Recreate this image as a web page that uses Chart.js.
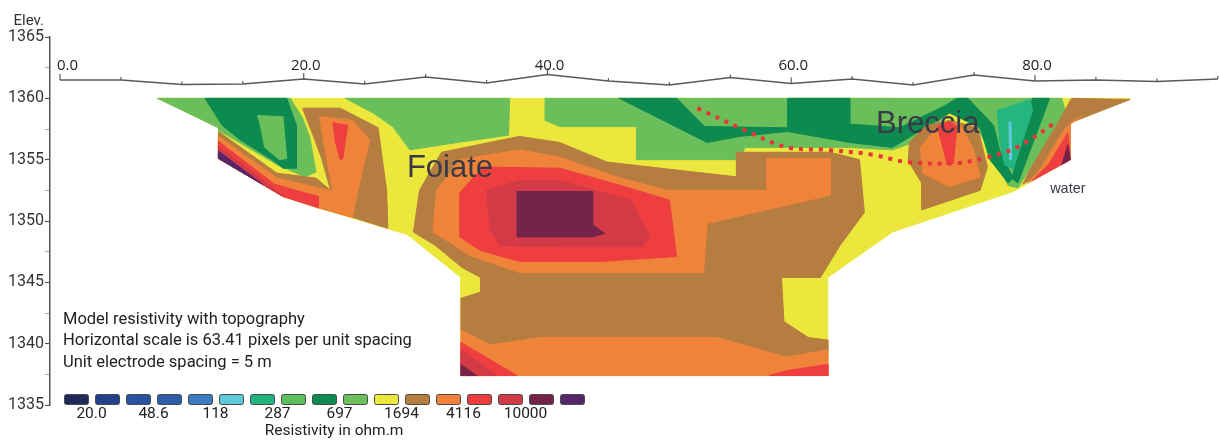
<!DOCTYPE html>
<html>
<head>
<meta charset="utf-8">
<script src="https://cdn.jsdelivr.net/npm/chart.js@4.4.1/dist/chart.umd.min.js"></script>
<style>
html, body { margin: 0; padding: 0; background: #fff; }
#wrap { width: 1219px; height: 440px; position: relative; }
</style>
</head>
<body>
<div id="wrap"><canvas id="section"></canvas></div>
<script>
const YELLOW = '#ece73c', LGREEN = '#6bbf5b', DGREEN = '#0d8a50', BROWN = '#b57e40',
      ORANGE = '#f0833a', RED = '#ee3e40', CRIMSON = '#d23a46', MAROON = '#76234a',
      PURPLE = '#55266b', TEAL = '#24b680', CYAN = '#5ecadb';

// topography profile along the line (distance m, elevation m)
const topoX = [0, 5, 10, 15, 20, 25, 30, 35, 40, 45, 50, 55, 60, 65, 70, 75, 80, 85, 90, 95];
const topoElev = [1361.5, 1361.5, 1361.13, 1361.17, 1361.58, 1361.17, 1361.74, 1361.25, 1361.94, 1361.41,
                  1361.09, 1361.7, 1361.21, 1361.58, 1361.09, 1361.9, 1361.41, 1361.5, 1361.37, 1361.58];
const xLabelValues = [0, 20, 40, 60, 80];

// colour scale
const legendColors = ['#1f2a5c', '#24408a', '#2752a0', '#2d5ca9', '#3a7dc1', '#5cc9d9', '#22b37c', '#5cbf5b',
                      '#0d8a4f', '#6cc05b', '#ece73c', '#b57e40', '#f0823a', '#ee3d3f', '#d33a45', '#75224a', '#55266b'];
const legendLabels = ['20.0', '48.6', '118', '287', '697', '1694', '4116', '10000'];
const notes = ['Model resistivity with topography', 'Horizontal scale is 63.41 pixels per unit spacing', 'Unit electrode spacing = 5 m'];

// resistivity zones, [distance, elevation] vertices
const outline = [[8,1360],[13,1357.6],[13,1355.1],[18.3,1352],[21.1,1351.1],[26.8,1349.4],[28.5,1348.9],[32.9,1345.4],[32.9,1337.4],[63,1337.4],[63,1345.4],[68.3,1349.1],[78.2,1352.4],[82.9,1355],[82.9,1358],[87.8,1360]];
const lgLeft = [[8,1360],[18.9,1360],[19.9,1358.4],[20.5,1356.8],[21,1354],[20.1,1353.6],[17.8,1354.6],[13,1357.4],[13,1357.6]];
const dgLeft = [[11.9,1360],[18.6,1360],[19.4,1357.8],[19.4,1354.3],[18.3,1354.3],[17.4,1355],[14.8,1356.6],[13.3,1357.8]];
const lgPocketLeft = [[16.2,1358.6],[18.3,1358.5],[18.6,1355.1],[18,1355],[16.8,1356],[16.4,1358]];
const colBrown = [[19.9,1359.2],[23,1359.2],[26.1,1357.6],[26.8,1352.5],[26.9,1349.4],[24,1350.3],[22.2,1352.5],[21.5,1355],[20.8,1356.9]];
const bandBrown = [[13,1357.3],[17.8,1353.9],[21,1353.5],[22.2,1352.5],[24,1350.3],[21.1,1351.1],[18.3,1352],[13,1355.1]];
const bandOrange = [[13,1356.9],[17.8,1353.5],[21.2,1352.7],[22.2,1352.5],[24,1350.3],[21.1,1351.1],[18.3,1352],[13,1355.1]];
const colOrange = [[21.3,1358.5],[24,1358.2],[25.4,1356.6],[24.4,1352.3],[24,1350.3],[22.4,1352.4],[21.9,1355]];
const bandRed = [[13,1356.5],[17.6,1353],[19.7,1352.4],[21.2,1352],[21.2,1351.1],[18.3,1352],[13,1355.1]];
const bandCrimson = [[13,1356.1],[17.2,1352.9],[18.3,1352],[13,1355.1]];
const bandPurple = [[13,1355.7],[16.6,1353.0],[13,1355.1]];
const colRed = [[22.4,1358],[23.6,1357.8],[23.2,1355.1],[23,1355],[22.6,1356.4]];
const lgMid = [[23.4,1360],[36.9,1360],[36.8,1357],[32.6,1356.4],[28.7,1355.8],[27.3,1357.7],[25.7,1358.8]];
const lgRight = [[39.8,1360],[82.2,1360],[82.5,1358.9],[78.6,1352.7],[77.8,1352.9],[76.3,1355.8],[75.1,1357.8],[73,1358.9],[70.6,1356.6],[68.3,1355.8],[64.8,1356],[56.2,1356],[55.8,1355],[47.3,1355],[47.3,1357.7],[41,1357.7],[39.8,1358.2]];
const dgBand = [[45.9,1360],[50.6,1360],[52.9,1357.7],[59.7,1357.6],[59.7,1360],[64.8,1360],[64.8,1357.9],[68.9,1357.6],[72.6,1359.4],[73.6,1360],[74.5,1360],[76.6,1357.8],[77.1,1355.8],[78.2,1353.5],[77.8,1353.1],[76.3,1355],[75.5,1357.6],[73,1358.8],[68.3,1356],[64.8,1356.4],[59.7,1357.3],[55.8,1356.9],[53.1,1356.4]];
const vRightDG = [[79.8,1360],[81.2,1360],[78.6,1353.1],[78.1,1353.5]];
const tealCore = [[76.9,1359],[79.6,1359.9],[79.8,1359],[78.2,1354.2],[77.5,1354.6],[77.1,1356.6]];
const brownMain = [[29,1349.1],[29.5,1352.5],[31.3,1355.6],[37.7,1356.9],[41,1356.4],[44.9,1354.8],[55.5,1353.6],[55.5,1355.6],[63.2,1355.6],[65.6,1355],[66,1350.7],[64,1348],[62.4,1345.4],[59.2,1345.4],[59.4,1341.8],[61.4,1340.5],[63,1340.3],[63,1339.5],[59.6,1338.9],[53.9,1340.5],[39.4,1340.5],[35.3,1339.9],[32.9,1341.1],[32.9,1343.7],[34.5,1344.2],[34.5,1345.4],[33,1346.2],[30.8,1348]];
const orangeBody = [[30.6,1349.1],[30.9,1352.5],[32.8,1355],[37.7,1355.8],[41,1355.2],[46,1353.5],[49.8,1352.5],[58,1352.5],[58,1355.1],[63.2,1355.1],[63.2,1352.1],[53.1,1349.8],[52.8,1345.8],[37.7,1345.8],[33.6,1347.2],[31.6,1348.5]];
const redBody = [[32.8,1348.7],[32.8,1352.3],[34.7,1354.4],[41,1354.3],[46,1352.9],[50,1351.7],[50.6,1347.1],[44.3,1346.7],[37.7,1346.7],[34.5,1347.6]];
const crimsonBody = [[35,1352.5],[37.7,1353.3],[41,1353.3],[46.8,1351.7],[48.4,1348.7],[47.8,1347.9],[41,1347.9],[36.1,1348],[35.3,1349.3]];
const maroonBody = [[37.5,1352.4],[43.7,1352.4],[43.7,1349.7],[44.7,1349],[43.7,1348.7],[37.5,1348.7]];
const lowerOrange = [[32.9,1341.1],[35.3,1339.9],[39.4,1340.5],[53.9,1340.5],[59.6,1338.9],[63,1339.5],[63,1337.4],[32.9,1337.4]];
const cornerRed = [[32.9,1340.1],[37.5,1337.4],[32.9,1337.4]];
const cornerCrimson = [[32.9,1339.5],[35.9,1337.4],[32.9,1337.4]];
const cornerMaroon = [[32.9,1338.3],[34.2,1337.4],[32.9,1337.4]];
const cornerRedRight = [[59.6,1337.8],[63,1338.3],[63,1337.4],[58.2,1337.4]];
const bumpBrown = [[69.7,1356.4],[71.1,1357.8],[73,1358.2],[75.3,1357.6],[76.1,1354.4],[75.5,1352.5],[70.7,1350.9],[70.7,1353.1],[69.6,1354.9]];
const bumpOrange = [[70.6,1356],[72,1357.7],[73.8,1358],[74.9,1356],[75.5,1353.6],[73,1352.8],[70.8,1353.9]];
const bumpRed = [[72,1357.7],[73,1358.1],[73.6,1357.7],[73.3,1354.7],[72.8,1354.6]];
const brownRight = [[83,1360],[87.8,1359.9],[82.9,1358],[82.9,1356.6],[80.4,1353.8],[79,1353],[79.6,1354.2],[82,1358.2]];
const orangeRight = [[82.5,1357.6],[83.9,1358.6],[82.9,1358],[82.9,1355],[79.4,1353.1],[80.4,1354.2]];
const redRight = [[82.7,1357.2],[82.9,1355],[79.8,1353.3],[81.1,1354.6]];
const maroonRight = [[82.7,1356.2],[82.9,1355],[82.2,1354.6]];
const cyanVein = [[77.95,1358.1],[78,1355]];
const contactLine = [[52.3,1359.2],[56.2,1357.4],[59.7,1356],[62.9,1355.8],[66.7,1355.4],[69.5,1354.8],[73.4,1354.7],[75.7,1355.1],[78.5,1356],[81.8,1358.1]];

// painting order, back to front
const layers = [
  [outline, YELLOW], [lgLeft, LGREEN], [dgLeft, DGREEN], [lgPocketLeft, LGREEN],
  [colBrown, BROWN], [bandBrown, BROWN], [bandOrange, ORANGE], [colOrange, ORANGE],
  [bandRed, RED], [bandCrimson, CRIMSON], [bandPurple, PURPLE], [colRed, RED],
  [lgMid, LGREEN], [lgRight, LGREEN], [dgBand, DGREEN], [vRightDG, DGREEN], [tealCore, TEAL],
  [brownMain, BROWN], [orangeBody, ORANGE], [redBody, RED], [crimsonBody, CRIMSON], [maroonBody, MAROON],
  [lowerOrange, ORANGE], [cornerRed, RED], [cornerCrimson, CRIMSON], [cornerMaroon, MAROON], [cornerRedRight, RED],
  [bumpBrown, BROWN], [bumpOrange, ORANGE], [bumpRed, RED],
  [brownRight, BROWN], [orangeRight, ORANGE], [redRight, RED], [maroonRight, MAROON]
];

const toXY = pts => pts.map(p => ({x: p[0], y: p[1]}));

const datasets = layers.map(([pts, color], i) => ({
  data: toXY(pts.concat([pts[0]])),
  backgroundColor: color,
  borderColor: color,
  borderWidth: 1,
  fill: 'shape',
  order: layers.length - i + 3
}));
datasets.push({data: toXY(cyanVein), borderColor: CYAN, borderWidth: 3, fill: false, order: 2});
datasets.push({
  data: topoX.map((d, i) => ({x: d, y: topoElev[i]})),
  borderColor: '#5a5a5a', borderWidth: 1.5, fill: false, order: 1
});
datasets.push({
  data: toXY(contactLine), borderColor: '#e8353b', borderWidth: 4,
  borderDash: [4, 6], tension: 0.35, fill: false, order: 0
});

const overlay = {
  id: 'overlay',
  afterDatasetsDraw(chart) {
    const {ctx, chartArea: a, scales: {x, y}} = chart;
    ctx.save();

    // ticks on the topography line, distance labels on a fixed row above it
    ctx.strokeStyle = '#5a5a5a';
    ctx.lineWidth = 1.2;
    ctx.fillStyle = '#222';
    ctx.font = '15px "Open Sans"';
    ctx.textBaseline = 'alphabetic';
    topoX.forEach((d, i) => {
      const px = x.getPixelForValue(d), py = y.getPixelForValue(topoElev[i]);
      const major = xLabelValues.includes(d);
      ctx.beginPath();
      ctx.moveTo(px, py);
      ctx.lineTo(px, py - (major ? 6 : 3));
      ctx.stroke();
      if (major) {
        ctx.textAlign = d === 0 ? 'left' : 'center';
        ctx.fillText(d.toFixed(1), d === 0 ? px - 3 : px + 2, a.top + 32.5);
      }
    });

    // axis caption
    ctx.font = '15px Roboto';
    ctx.fillStyle = '#333';
    ctx.textAlign = 'right';
    ctx.fillText('Elev.', a.left - 6, a.top - 12);

    // zone names
    ctx.fillStyle = '#3a3a46';
    ctx.textAlign = 'center';
    ctx.textBaseline = 'middle';
    ctx.font = '31px "Liberation Sans"';
    ctx.fillText('Foiate', x.getPixelForValue(32), y.getPixelForValue(1354.3));
    ctx.fillText('Breccia', x.getPixelForValue(71.2), y.getPixelForValue(1357.9));
    ctx.font = '14.5px "Liberation Sans"';
    ctx.fillText('water', x.getPixelForValue(82.7), y.getPixelForValue(1352.6));

    // model notes
    ctx.fillStyle = '#222';
    ctx.textAlign = 'left';
    ctx.textBaseline = 'alphabetic';
    ctx.font = '16.5px Roboto';
    notes.forEach((t, i) => ctx.fillText(t, a.left + 13, a.bottom - 81.5 + i * 21.5));

    // colour scale
    const sx = a.left + 14, step = 31;
    legendColors.forEach((c, i) => {
      ctx.beginPath();
      ctx.roundRect(sx + i * step + 0.5, a.bottom - 10.5, 24, 10, 2);
      ctx.fillStyle = c;
      ctx.fill();
      ctx.strokeStyle = '#4a4a4a';
      ctx.lineWidth = 1;
      ctx.stroke();
    });
    ctx.fillStyle = '#222';
    ctx.textAlign = 'center';
    ctx.font = '15.5px Roboto';
    legendLabels.forEach((t, k) => ctx.fillText(t, sx + (2 * k + 1) * step - 3.5, a.bottom + 13));
    ctx.fillText('Resistivity in ohm.m', a.left + 284, a.bottom + 30);

    ctx.restore();
  }
};

Chart.defaults.font.family = 'Roboto';

const ctx = document.getElementById('section');
new Chart(ctx, {
  type: 'line',
  data: {datasets},
  options: {
    responsive: true,
    maintainAspectRatio: false,
    animation: false,
    events: [],
    layout: {padding: {top: 37, bottom: 35, left: 0, right: 0}},
    elements: {point: {radius: 0}, line: {tension: 0}},
    scales: {
      x: {type: 'linear', display: false, min: -0.82, max: 95.1},
      y: {
        min: 1335, max: 1365,
        afterFit: s => { s.width = 50; },
        border: {color: '#555', width: 1.5},
        grid: {
          drawOnChartArea: false, tickLength: 5, tickWidth: 1.2,
          color: c => (c.tick && c.tick.value % 5 === 0) ? '#555' : '#aaa'
        },
        ticks: {
          stepSize: 2.5, autoSkip: false, padding: 1, color: '#333',
          font: {size: 16},
          callback: v => v % 5 === 0 ? String(v) : ''
        }
      }
    },
    plugins: {legend: {display: false}, tooltip: {enabled: false}}
  },
  plugins: [overlay]
});
</script>
</body>
</html>
